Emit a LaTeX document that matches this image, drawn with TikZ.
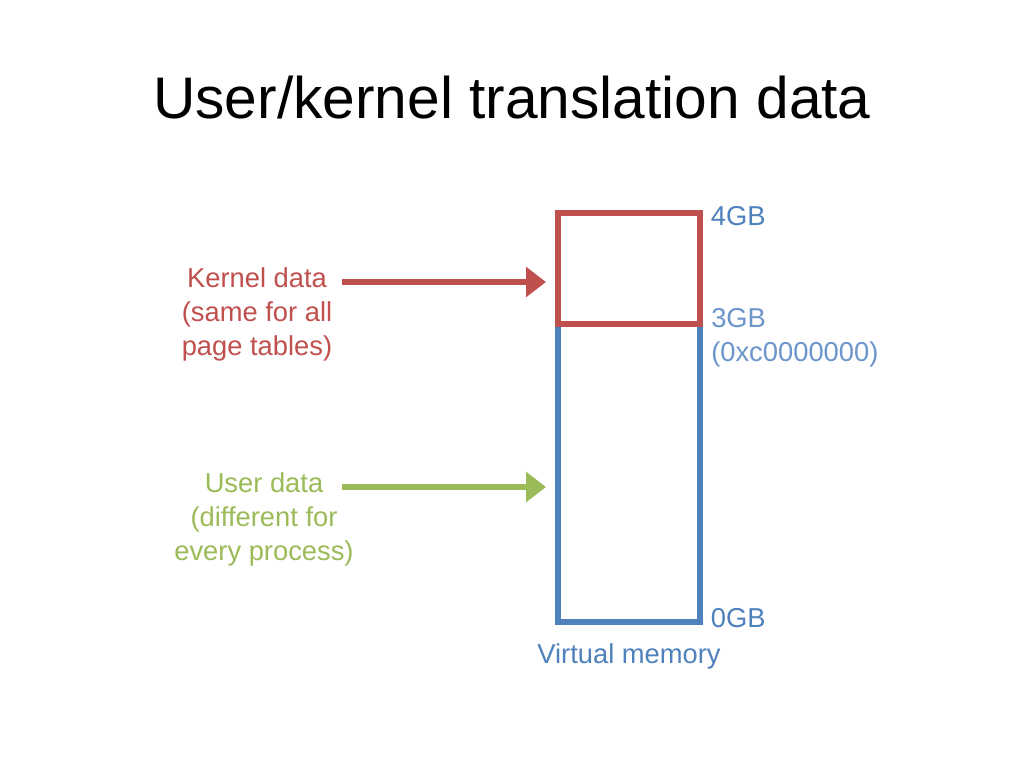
\documentclass[tikz,border=0pt]{standalone}
\usepackage{fontspec}
\setmainfont{Liberation Sans}
\usepackage{tikz}
\usetikzlibrary{positioning}
\usetikzlibrary{arrows.meta}
\definecolor{kernred}{HTML}{C0504D}
\definecolor{usergreen}{HTML}{9BBB59}
\definecolor{memblue}{HTML}{4F81BD}
\definecolor{addrblue}{HTML}{6C95CB}
\tikzset{%
  region/.style   = {rectangle, minimum width = 106.5pt, inner sep = 0pt, outer sep = 0pt},
  lbl/.style      = {inner sep = 0pt, font = \fontsize{20.5}{25.5}\selectfont},
  side/.style     = {lbl, align = center},
  point/.style    = {line width = 4.5pt, -{Triangle[length=15pt, width=22pt]}, shorten > = 9pt}, % pointer arrow
  edge/.style     = {line width = 4.5pt}
}
\begin{document}
\begin{tikzpicture}[x=0.75pt, y=-0.75pt]

  \useasboundingbox[fill=white] (0,0) rectangle (1024,768);

  \draw node at (512,118) [anchor=base, inner sep=0pt, font=\fontsize{44}{50}\selectfont] (title) {User/kernel translation data};

  \draw node at (629,473) [region, minimum height=223.5pt] (usr) {};
  \draw[edge, memblue] (usr.north west) -- (usr.south west) -- (usr.south east) -- (usr.north east);
  \draw node at (629,268.5) [region, draw=kernred, line width=4.5pt, minimum height=83.25pt] (kern) {};

  \draw node [lbl, memblue, right=8pt of kern.north east, yshift=-2pt] (top) {4GB};
  \draw node at (711,337.5) [lbl, addrblue, anchor=west, align=left] (mid) {3GB\\(0xc0000000)};
  \draw node [lbl, memblue, right=8pt of usr.south east, yshift=3pt] (bot) {0GB};
  \draw node [lbl, memblue, below=16pt of usr.south] (vm) {Virtual memory};

  \draw node at (257,314) [side, kernred] (ktxt) {Kernel data\\(same for all\\page tables)};
  \draw node at (264,519) [side, usergreen] (utxt) {User data\\(different for\\every process)};

  \coordinate (ktail) at (342,282);
  \coordinate (utail) at (342,487);
  \draw[point, kernred] (ktail) -- (kern.west |- ktail);
  \draw[point, usergreen] (utail) -- (usr.west |- utail);

\end{tikzpicture}
\end{document}
